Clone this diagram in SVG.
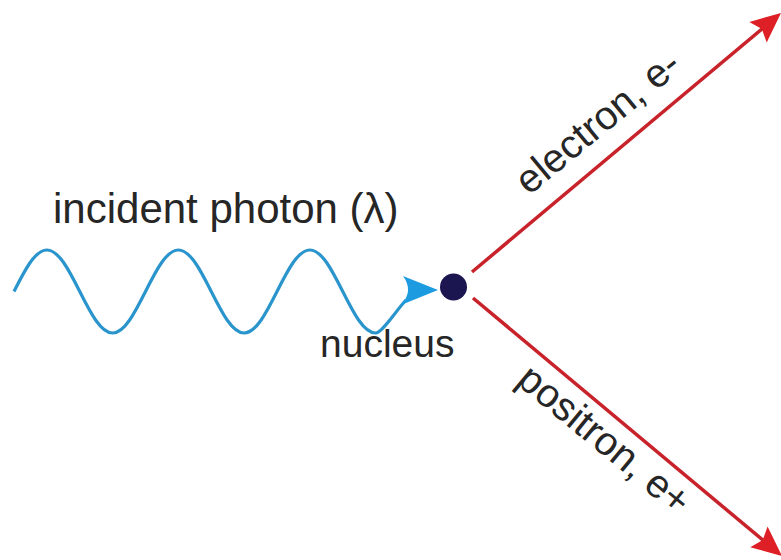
<svg xmlns="http://www.w3.org/2000/svg" width="781" height="560" viewBox="0 0 781 560">
<style>
.lbl{font-family:"Liberation Sans",Arial,sans-serif;fill:#262626}
.red{stroke:#c8222a;stroke-width:3.5;fill:none}
.wave{stroke:#2a95cc;stroke-width:3.2;fill:none;stroke-linejoin:round}
</style>
<defs>
<marker id="redhead" markerUnits="userSpaceOnUse" markerWidth="40" markerHeight="40" refX="0" refY="0" orient="auto" overflow="visible">
<path d="M20,0 L-10,-13.5 L-5,0 L-10,13.5 Z" fill="#de1f26"/>
</marker>
</defs>
<rect width="781" height="560" fill="#ffffff"/>
<g id="connectors">
<path id="photon" class="wave" d="M14,291.5 C24.73,270.22 35.01,250 46.88,250 C58.74,250 69.02,270.22 79.75,291.5 C90.48,312.78 100.76,333 112.63,333 C124.49,333 134.77,312.78 145.5,291.5 C156.23,270.22 166.51,250 178.38,250 C190.24,250 200.52,270.22 211.25,291.5 C221.98,312.78 232.26,333 244.13,333 C255.99,333 266.27,312.78 277,291.5 C287.73,270.22 298.01,250 309.88,250 C321.74,250 332.02,270.22 342.75,291.5 C353.48,312.78 363.76,333 375.63,333 C382,333 395,312 406,300"/>
<path id="photon-head" d="M438,290 L403,276 Q414,291 401,305 Z" fill="#1d9be0"/>
<line id="electron" class="red" x1="472" y1="272" x2="765.7" y2="25.8" marker-end="url(#redhead)"/>
<line id="positron" class="red" x1="473" y1="298" x2="766.6" y2="543.2" marker-end="url(#redhead)"/>
</g>
<g id="nucleus">
<circle cx="453.5" cy="287" r="13.5" fill="#1b1550"/>
<text class="lbl" x="320" y="357" font-size="39">nucleus</text>
</g>
<g id="photon-label">
<text class="lbl" x="53" y="223" font-size="42">incident photon (λ)</text>
</g>
<g id="electron-label">
<text class="lbl" font-size="40" transform="translate(529,196) rotate(-39.5)">electron, e-</text>
</g>
<g id="positron-label">
<text class="lbl" font-size="40" transform="translate(515,383) rotate(39.5)">positron, e+</text>
</g>
</svg>
